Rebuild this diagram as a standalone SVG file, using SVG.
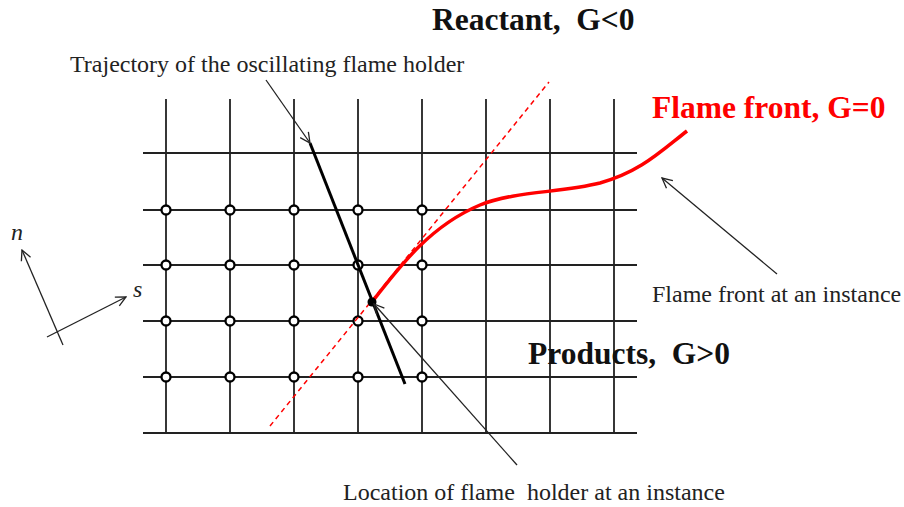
<svg xmlns="http://www.w3.org/2000/svg" width="904" height="507" viewBox="0 0 904 507">
<defs>
<marker id="open" viewBox="0 0 12 12" refX="11" refY="6" markerWidth="12" markerHeight="12" markerUnits="userSpaceOnUse" orient="auto">
<path d="M1,1 L11,6 L1,11" fill="none" stroke="#222" stroke-width="1.3"/>
</marker>
<style>
.grid{stroke:#222;stroke-width:1.8;fill:none}
.pt{fill:#fff;stroke:#000;stroke-width:2.3}
.lbl{font-family:"Liberation Serif","Times New Roman",serif;font-size:24px;fill:#222;white-space:pre}
.big{font-family:"Liberation Serif","Times New Roman",serif;font-size:31.5px;font-weight:bold;fill:#111;white-space:pre}
.ptr{stroke:#222;stroke-width:1.3;fill:none;marker-end:url(#open)}
</style>
</defs>
<rect width="904" height="507" fill="#fff"/>
<g id="grid" class="grid">
<path d="M166,99V433M230,99V433M294,99V433M358,99V433M422,99V433M486,99V433M550,99V433M614,99V433"/>
<path d="M143,153H637M143,210H637M143,265H637M143,321H637M143,377H637M143,433H637"/>
</g>
<g id="nodes">
<g class="pt">
<circle cx="166" cy="210" r="4.5"/><circle cx="230" cy="210" r="4.5"/><circle cx="294" cy="210" r="4.5"/><circle cx="358" cy="210" r="4.5"/><circle cx="422" cy="210" r="4.5"/>
<circle cx="166" cy="265" r="4.5"/><circle cx="230" cy="265" r="4.5"/><circle cx="294" cy="265" r="4.5"/><circle cx="358" cy="265" r="4.5"/><circle cx="422" cy="265" r="4.5"/>
<circle cx="166" cy="321" r="4.5"/><circle cx="230" cy="321" r="4.5"/><circle cx="294" cy="321" r="4.5"/><circle cx="358" cy="321" r="4.5"/><circle cx="422" cy="321" r="4.5"/>
<circle cx="166" cy="377" r="4.5"/><circle cx="230" cy="377" r="4.5"/><circle cx="294" cy="377" r="4.5"/><circle cx="358" cy="377" r="4.5"/><circle cx="422" cy="377" r="4.5"/>
</g>
</g>
<g id="dashed-line">
<line x1="270" y1="426" x2="549" y2="82" stroke="#ff0000" stroke-width="1.5" stroke-dasharray="5,4"/>
</g>
<g id="trajectory">
<line x1="310" y1="143" x2="405" y2="384" stroke="#000" stroke-width="3"/>
</g>
<g id="flame-front">
<path d="M372,302 C400,266 430,226 480,205 C515,191 560,193 600,183 C640,172 660,152 687,131" fill="none" stroke="#ff0000" stroke-width="3.5"/>
</g>
<g id="holder">
<circle cx="372" cy="302" r="4.5" fill="#000"/>
</g>
<g id="axes">
<line class="ptr" x1="63" y1="345" x2="22" y2="250"/>
<line class="ptr" x1="47" y1="337" x2="126" y2="297"/>
<text class="lbl" x="11" y="240" font-style="italic">n</text>
<text class="lbl" x="133" y="297" font-style="italic">s</text>
</g>
<g id="connectors">
<line class="ptr" x1="266" y1="80" x2="310" y2="143"/>
<line class="ptr" x1="777" y1="274" x2="662" y2="178"/>
<line class="ptr" x1="517" y1="465" x2="374" y2="304"/>
</g>
<g id="labels">
<text class="big" x="432" y="30">Reactant,  G&lt;0</text>
<text class="big" x="652" y="118" style="fill:#ff0000">Flame front, G=0</text>
<text class="big" x="528" y="364">Products,  G&gt;0</text>
<text class="lbl" x="70" y="72">Trajectory of the oscillating flame holder</text>
<text class="lbl" x="652" y="302">Flame front at an instance</text>
<text class="lbl" x="343" y="500">Location of flame  holder at an instance</text>
</g>
</svg>
